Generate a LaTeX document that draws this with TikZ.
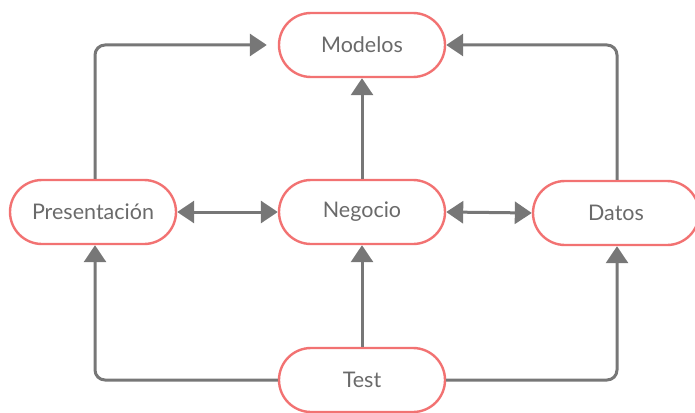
\documentclass[tikz,border=0pt]{standalone}
\usepackage{fontspec}
\setmainfont{Lato}
\usetikzlibrary{arrows.meta}
\definecolor{pillred}{HTML}{F27272}
\definecolor{txtgray}{HTML}{6A6A6A}
\definecolor{arrgray}{HTML}{777777}
\tikzset{
  pill/.style={draw=pillred, line width=2.4pt, fill=white, rounded corners=32pt,
    minimum width=166pt, minimum height=64pt, inner sep=0pt,
    text=txtgray, font=\fontsize{21.5}{24}\selectfont},
  conn/.style={draw=arrgray, line width=3pt, rounded corners=10pt,
    -{Triangle[length=17pt,width=22pt]}},
  dconn/.style={draw=arrgray, line width=3pt,
    {Triangle[length=17pt,width=22pt]}-{Triangle[length=17pt,width=22pt]}}
}
\begin{document}
\begin{tikzpicture}[x=1pt,y=-1pt]
\useasboundingbox (0,0) rectangle (695,412);
\node[pill] (mod) at (362,45) {Modelos};
\node[pill] (neg) at (362,212) {Negocio};
\node[pill] (pre) at (93,212) {Presentación};
\node[pill] (dat) at (616,213) {Datos};
\node[pill] (tst) at (362,380) {Test};
\coordinate (lft) at (95,0);
\coordinate (rgt) at (617,0);
% upper connectors
\draw[conn, shorten >=11pt] (lft |- pre.north) |- (mod.west);
\draw[conn] (rgt |- dat.north) |- (mod.east);
\draw[conn] (neg.north) -- (mod.south);
% middle double arrows
\draw[dconn] (pre.east) -- (neg.west);
\draw[dconn] (neg.east) -- (dat.west);
% lower connectors
\draw[conn] (tst.west) -| (lft |- pre.south);
\draw[conn] (tst.north) -- (neg.south);
\draw[conn] (tst.east) -| (rgt |- dat.south);
\end{tikzpicture}
\end{document}
